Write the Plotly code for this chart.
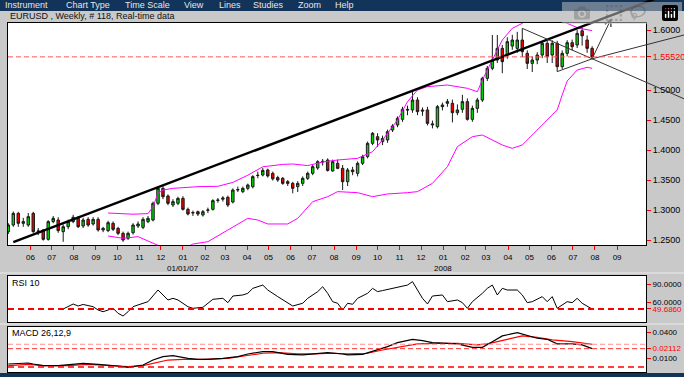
import pandas as pd
import plotly.graph_objects as go

W, H = 684, 377

# ---------------- data ----------------
first_week = "2006-05-01"

opens = [1.2639,1.2750,1.2944,1.2778,1.2750,1.2944,1.2639,1.2667,1.2511,1.2806,
1.2833,1.2639,1.2722,1.2806,1.2861,1.2733,1.2844,1.2767,1.2844,1.2667,
1.2656,1.2778,1.2694,1.2611,1.2528,1.2622,1.2733,1.2711,1.2806,1.2833,
1.3111,1.3361,1.3233,1.3083,1.3111,1.3194,1.3011,1.2950,1.2972,1.2917,
1.2995,1.3011,1.3160,1.3180,1.3211,1.3133,1.3333,1.3306,1.3361,1.3389,
1.3580,1.3583,1.3667,1.3611,1.3540,1.3528,1.3472,1.3444,1.3389,1.3444,
1.3528,1.3611,1.3700,1.3800,1.3833,1.3650,1.3778,1.3694,1.3472,1.3667,
1.3611,1.3778,1.3889,1.4111,1.4222,1.4139,1.4167,1.4333,1.4417,1.4511,
1.4678,1.4667,1.4833,1.4667,1.4667,1.4417,1.4389,1.4722,1.4778,1.4778,
1.4622,1.4678,1.4806,1.4511,1.4694,1.4833,1.5194,1.5361,1.5500,1.5694,
1.5583,1.5733,1.5694,1.5833,1.5611,1.5444,1.5500,1.5583,1.5778,1.5583,
1.5778,1.5389,1.5611,1.5789,1.5750,1.5986,1.5833,1.5694]

highs = [1.2780,1.2975,1.2970,1.2870,1.2950,1.2970,1.2700,1.2680,1.2830,1.2900,
1.2880,1.2760,1.2840,1.2920,1.2900,1.2870,1.2880,1.2880,1.2880,1.2720,
1.2820,1.2810,1.2720,1.2640,1.2640,1.2780,1.2810,1.2880,1.2900,1.3140,
1.3400,1.3400,1.3260,1.3180,1.3220,1.3230,1.3040,1.2990,1.2990,1.3000,
1.3040,1.3180,1.3200,1.3230,1.3240,1.3360,1.3390,1.3390,1.3440,1.3580,
1.3640,1.3700,1.3690,1.3640,1.3570,1.3550,1.3500,1.3470,1.3480,1.3560,
1.3640,1.3750,1.3830,1.3850,1.3860,1.3840,1.3840,1.3750,1.3700,1.3720,
1.3810,1.3920,1.4140,1.4300,1.4280,1.4240,1.4340,1.4430,1.4560,1.4720,
1.4740,1.4970,1.4880,1.4710,1.4720,1.4490,1.4750,1.4790,1.4850,1.4840,
1.4760,1.4920,1.4860,1.4740,1.4870,1.5220,1.5400,1.5917,1.5917,1.5750,
1.5880,1.5920,1.5970,1.6028,1.5660,1.5560,1.5630,1.5810,1.5820,1.5830,
1.5820,1.5660,1.5830,1.5840,1.6000,1.6038,1.5910,1.5730]

lows = [1.2600,1.2720,1.2720,1.2720,1.2720,1.2620,1.2580,1.2490,1.2490,1.2780,
1.2620,1.2470,1.2680,1.2780,1.2700,1.2700,1.2720,1.2740,1.2640,1.2630,
1.2630,1.2650,1.2580,1.2470,1.2500,1.2590,1.2700,1.2680,1.2780,1.2810,
1.3080,1.3180,1.3080,1.3050,1.3080,1.2990,1.2910,1.2900,1.2900,1.2890,
1.2950,1.2990,1.3120,1.3140,1.3050,1.3110,1.3300,1.3280,1.3330,1.3360,
1.3530,1.3560,1.3540,1.3490,1.3470,1.3420,1.3400,1.3278,1.3300,1.3400,
1.3500,1.3580,1.3670,1.3740,1.3640,1.3640,1.3680,1.3333,1.3400,1.3580,
1.3560,1.3750,1.3860,1.4080,1.4050,1.4080,1.4120,1.4300,1.4380,1.4470,
1.4580,1.4620,1.4580,1.4570,1.4410,1.4360,1.4360,1.4660,1.4720,1.4460,
1.4580,1.4620,1.4490,1.4470,1.4620,1.4800,1.5150,1.5330,1.5450,1.5280,
1.5520,1.5670,1.5620,1.5550,1.5350,1.5300,1.5430,1.5530,1.5450,1.5450,
1.5306,1.5350,1.5560,1.5660,1.5700,1.5740,1.5620,1.5510]

closes = [1.2750,1.2944,1.2778,1.2806,1.2889,1.2639,1.2650,1.2511,1.2806,1.2861,
1.2656,1.2722,1.2806,1.2878,1.2722,1.2833,1.2750,1.2844,1.2667,1.2694,
1.2789,1.2678,1.2611,1.2500,1.2611,1.2750,1.2767,1.2844,1.2861,1.3111,
1.3361,1.3222,1.3111,1.3139,1.3194,1.3011,1.2933,1.2956,1.2933,1.2972,
1.3000,1.3156,1.3165,1.3200,1.3083,1.3333,1.3340,1.3361,1.3417,1.3556,
1.3575,1.3660,1.3567,1.3520,1.3500,1.3444,1.3444,1.3361,1.3444,1.3528,
1.3611,1.3722,1.3806,1.3810,1.3660,1.3806,1.3694,1.3472,1.3667,1.3639,
1.3778,1.3889,1.4111,1.4278,1.4167,1.4194,1.4306,1.4400,1.4528,1.4678,
1.4667,1.4833,1.4639,1.4650,1.4444,1.4433,1.4722,1.4750,1.4806,1.4622,
1.4667,1.4806,1.4511,1.4694,1.4833,1.5194,1.5361,1.5500,1.5694,1.5472,
1.5806,1.5833,1.5833,1.5639,1.5444,1.5500,1.5583,1.5778,1.5556,1.5778,
1.5389,1.5611,1.5789,1.5722,1.5944,1.5903,1.5694,1.5552]

# Bollinger bands (week number, value)
bb_upper_week = [21,24,26,29,30,31,32,34,39,43,46,49,52,56,58,61,64,67,71,74,76,79,81,83,85,89,93,95,96,98,100,102,104,106,110,113,114,115,116,117,118]
bb_upper = [1.2950,1.2940,1.2930,1.2940,1.3056,1.3278,1.3333,1.3361,1.3389,1.3395,1.3460,1.3580,1.3720,1.3760,1.3767,1.3740,1.3800,1.3833,1.3861,1.3972,1.4167,1.4500,1.4806,1.5000,1.5056,1.5083,1.5028,1.4972,1.5167,1.5500,1.5833,1.6028,1.6111,1.6250,1.6250,1.6111,1.6070,1.6040,1.6020,1.6000,1.5990]
bb_lower_week = [21,24,27,30,31,33,35,37,38,41,45,49,51,53,57,59,62,65,67,71,74,77,81,83,86,89,91,94,96,98,100,102,104,106,109,111,112,113,115,117,118]
bb_lower = [1.2567,1.2528,1.2556,1.2456,1.2411,1.2380,1.2370,1.2390,1.2433,1.2472,1.2667,1.2861,1.2833,1.2767,1.2767,1.2861,1.3139,1.3222,1.3306,1.3289,1.3222,1.3267,1.3289,1.3306,1.3444,1.3722,1.4056,1.4222,1.4250,1.4167,1.4083,1.4028,1.4083,1.4250,1.4500,1.4667,1.4917,1.5150,1.5333,1.5378,1.5361]

# RSI 10 (week number, value)
rsi_week = [12,14,15,16,18,19,20,22,23,24,25,26,27,29,31,32,33,34,35,37,38,40,41,42,44,45,46,48,49,50,52,53,55,57,58,60,61,63,64,65,66,67,68,69,70,71,73,74,75,76,78,80,81,82,83,84,85,86,88,89,91,92,93,94,96,97,98,99,100,101,103,104,105,106,108,109,110,111,113,114,115,116,118]
rsi_value = [49.7,57.7,54.5,57.0,53.4,48.0,45.3,50.8,42.7,38.4,45.3,53.4,56.2,61.5,80.3,72.3,64.2,66.9,64.2,53.4,50.8,52.4,58.9,65.3,66.9,59.9,70.6,72.3,75.0,83.0,88.3,80.3,69.6,58.9,54.5,58.9,66.9,77.6,85.6,75.0,61.5,58.9,48.1,58.9,57.3,66.9,75.0,83.0,77.7,79.4,83.0,85.7,88.3,93.8,80.3,66.9,57.8,70.6,72.3,61.5,64.2,59.9,50.8,61.5,75.0,83.0,88.3,72.3,83.0,80.3,80.3,72.3,59.9,61.5,69.6,61.5,69.6,50.8,61.5,59.9,66.9,58.9,49.686]
rsi_last = 49.686

# MACD 26,12,9 (week number, value)
macd_week = [1,3,5,6,8,11,13,16,19,21,23,25,27,28,30,32,34,35,37,39,41,44,47,49,52,54,57,60,62,65,68,69,72,75,77,79,82,84,86,89,91,94,96,98,100,103,104,107,109,111,114,116,118]
macd_value = [0.0034,0.0042,0.0046,0.0034,0.0015,0.0015,0.0023,0.0042,0.0030,0.0023,0.0011,-0.0004,0.0011,0.0023,0.0080,0.0119,0.0131,0.0119,0.0100,0.0088,0.0088,0.0100,0.0119,0.0150,0.0177,0.0177,0.0146,0.0139,0.0150,0.0166,0.0150,0.0139,0.0146,0.0196,0.0235,0.0281,0.0319,0.0304,0.0281,0.0273,0.0266,0.0227,0.0227,0.0292,0.0358,0.0396,0.0381,0.0331,0.0319,0.0266,0.0266,0.0254,0.02112]
signal_week = [1,5,8,13,17,21,25,28,30,33,36,40,45,48,52,55,59,62,66,69,73,76,80,83,87,91,95,97,101,104,107,110,114,118]
signal_value = [0.0015,0.0030,0.0015,0.0015,0.0030,0.0015,0.0004,0.0015,0.0042,0.0080,0.0088,0.0088,0.0100,0.0127,0.0158,0.0166,0.0150,0.0150,0.0158,0.0150,0.0158,0.0196,0.0235,0.0266,0.0273,0.0273,0.0254,0.0266,0.0319,0.0358,0.0342,0.0312,0.0292,0.0262]
macd_last = 0.02112
signal_last = 0.0262

last_price = 1.5552

# drawn trend lines (date, price)
trend_long_x = ["2006-05-08", "2008-12-01"]
trend_long_y = [1.2465, 1.6690]
trend_down_x = ["2008-04-21", "2008-12-04"]
trend_down_y = [1.6028, 1.4853]
trend_up_x = ["2008-06-09", "2008-07-28", "2008-12-04"]
trend_up_y = [1.5306, 1.5520, 1.5917]
arrow_from = ("2008-07-28", 1.5520)
arrow_to = ("2008-08-24", 1.6195)

price_ticks = [1.25, 1.30, 1.35, 1.40, 1.45, 1.50, 1.60]
rsi_ticks = [90, 60]
macd_ticks = [0.04, 0.01]
month_ticks = pd.date_range("2006-06-01", "2008-09-01", freq="MS")
month_labels = [d.strftime("%m") for d in month_ticks]
year_labels = [("2007-01-01", "01/01/07"), ("2008-01-01", "2008")]

menu_items = ["Instrument", "Chart Type", "Time Scale", "View", "Lines", "Studies", "Zoom", "Help"]
title_text = "EURUSD , Weekly, # 118, Real-time data"

# ---------------- geometry ----------------
start = pd.Timestamp(first_week)
week_dates = [start + pd.Timedelta(weeks=i) for i in range(len(closes))]
def wk(ks):
    return [week_dates[k - 1] for k in ks]

PX_L, PX_R = 8, 646
MAIN_T, MAIN_B = 23, 245
RSI_T, RSI_B = 276, 322
MACD_T, MACD_B = 327, 372
WEEK_PX, FIRST_PX = 4.99, 8.3

def px_date(px):
    return (start + pd.Timedelta(days=(px - FIRST_PX) / WEEK_PX * 7)).strftime("%Y-%m-%d %H:%M:%S")

def ydom(top, bot):
    return [1 - bot / H, 1 - top / H]

xdom = [PX_L / W, PX_R / W]
main_xr = [px_date(PX_L), px_date(PX_R)]
full_xr = [px_date(0), px_date(W)]
main_yr = [1.24167, 1.61167]
ppx = (main_yr[1] - main_yr[0]) / (MAIN_B - MAIN_T)
full_yr = [main_yr[0] - (H - MAIN_B) * ppx, main_yr[1] + MAIN_T * ppx]

FONT = "Liberation Sans"
GREY = "#c9c9c9"
NAVY = "#12335a"

fig = go.Figure()

fig.add_trace(go.Candlestick(
    x=week_dates, open=opens, high=highs, low=lows, close=closes,
    increasing=dict(fillcolor="#00d400", line=dict(color="#1a1a1a", width=1)),
    decreasing=dict(fillcolor="#e80000", line=dict(color="#1a1a1a", width=1)),
    whiskerwidth=0, xaxis="x", yaxis="y", showlegend=False, hoverinfo="skip"))

fig.add_trace(go.Scatter(x=wk(bb_upper_week), y=bb_upper, mode="lines",
                         line=dict(color="#ff00ff", width=1), xaxis="x", yaxis="y", showlegend=False))
fig.add_trace(go.Scatter(x=wk(bb_lower_week), y=bb_lower, mode="lines",
                         line=dict(color="#ff00ff", width=1), xaxis="x", yaxis="y", showlegend=False))

fig.add_trace(go.Scatter(x=wk(rsi_week), y=rsi_value, mode="lines",
                         line=dict(color="#000000", width=1), xaxis="x2", yaxis="y2", showlegend=False))
fig.add_trace(go.Scatter(x=wk(signal_week), y=signal_value, mode="lines",
                         line=dict(color="#ff0000", width=1.2), xaxis="x3", yaxis="y3", showlegend=False))
fig.add_trace(go.Scatter(x=wk(macd_week), y=macd_value, mode="lines",
                         line=dict(color="#000000", width=1.2), xaxis="x3", yaxis="y3", showlegend=False))

# trend lines on a full-figure overlay axis pair with the same scale
fig.add_trace(go.Scatter(x=trend_long_x, y=trend_long_y, mode="lines",
                         line=dict(color="#000000", width=2.4), xaxis="x4", yaxis="y4", showlegend=False))
fig.add_trace(go.Scatter(x=trend_down_x, y=trend_down_y, mode="lines",
                         line=dict(color="#333333", width=1), xaxis="x4", yaxis="y4", showlegend=False))
fig.add_trace(go.Scatter(x=trend_up_x, y=trend_up_y, mode="lines",
                         line=dict(color="#333333", width=1), xaxis="x4", yaxis="y4", showlegend=False))

axis_common = dict(showgrid=False, zeroline=False, showline=True, linecolor="#000000",
                   linewidth=1, mirror=True, fixedrange=True, automargin=False)
def ytick(size):
    return dict(side="right", ticks="outside", ticklen=4, tickcolor="#ff0000",
                tickfont=dict(family=FONT, size=size, color="#000000"))

red = lambda s: "<span style='color:#ff0000'>" + s + "</span>"

fig.update_layout(
    width=W, height=H, margin=dict(l=0, r=0, t=0, b=0, autoexpand=False),
    paper_bgcolor=GREY, plot_bgcolor="rgba(0,0,0,0)", showlegend=False,
    font=dict(family=FONT, size=9, color="#000000"),
    xaxis=dict(domain=xdom, anchor="y", type="date", range=main_xr, **axis_common,
               tickmode="array", tickvals=list(month_ticks), ticktext=month_labels,
               ticks="outside", ticklen=4, tickcolor="#ff0000",
               tickfont=dict(family=FONT, size=8, color="#000000"),
               rangeslider=dict(visible=False)),
    yaxis=dict(domain=ydom(MAIN_T, MAIN_B), anchor="x", range=main_yr, **axis_common, **ytick(9),
               tickmode="array", tickvals=price_ticks + [last_price],
               ticktext=["%.4f" % v for v in price_ticks] + [red("%.5f" % last_price)]),
    xaxis2=dict(domain=xdom, anchor="y2", type="date", range=main_xr, **axis_common,
                showticklabels=False, ticks=""),
    yaxis2=dict(domain=ydom(RSI_T, RSI_B), anchor="x2", range=[28.7, 102.9], **axis_common, **ytick(8),
                tickmode="array", tickvals=rsi_ticks + [rsi_last],
                ticktext=["%.4f" % v for v in rsi_ticks] + [red("%.4f" % rsi_last)]),
    xaxis3=dict(domain=xdom, anchor="y3", type="date", range=main_xr, **axis_common,
                showticklabels=False, ticks=""),
    yaxis3=dict(domain=ydom(MACD_T, MACD_B), anchor="x3", range=[-0.0058, 0.0461], **axis_common, **ytick(8),
                tickmode="array", tickvals=macd_ticks + [macd_last],
                ticktext=["%.4f" % v for v in macd_ticks] + [red("%.5f" % macd_last)]),
    xaxis4=dict(domain=[0, 1], anchor="y4", type="date", range=full_xr, visible=False,
                fixedrange=True, automargin=False),
    yaxis4=dict(domain=[0, 1], anchor="x4", range=full_yr, visible=False,
                fixedrange=True, automargin=False),
)

shapes = []
# panel backgrounds
for xr_, yr_ in [("x", "y"), ("x2", "y2"), ("x3", "y3")]:
    shapes.append(dict(type="rect", xref=xr_ + " domain", yref=yr_ + " domain", x0=0, x1=1, y0=0, y1=1,
                       fillcolor="#ffffff", line=dict(width=0), layer="below"))
# menu bar and bottom bar
shapes.append(dict(type="rect", xref="paper", yref="paper", x0=0, x1=1, y0=1 - 11 / H, y1=1,
                   fillcolor=NAVY, line=dict(width=0), layer="below"))
shapes.append(dict(type="rect", xref="paper", yref="paper", x0=0, x1=1, y0=0, y1=4 / H,
                   fillcolor=NAVY, line=dict(width=0), layer="below"))
# panel separators
for ypx in (273, 324):
    shapes.append(dict(type="line", xref="paper", yref="paper", x0=0, x1=1, y0=1 - ypx / H, y1=1 - ypx / H,
                       line=dict(color="#ececec", width=1), layer="below"))
# current value lines
shapes.append(dict(type="line", xref="x domain", yref="y", x0=0, x1=1, y0=last_price, y1=last_price,
                   line=dict(color="#ff5050", width=1, dash="5px,3px")))
shapes.append(dict(type="line", xref="x2 domain", yref="y2", x0=0, x1=1, y0=rsi_last, y1=rsi_last,
                   line=dict(color="#ff0000", width=2, dash="6px,4px")))
shapes.append(dict(type="line", xref="x3 domain", yref="y3", x0=0, x1=1, y0=signal_last, y1=signal_last,
                   line=dict(color="#ff9090", width=1, dash="5px,3px")))
shapes.append(dict(type="line", xref="x3 domain", yref="y3", x0=0, x1=1, y0=macd_last, y1=macd_last,
                   line=dict(color="#ff3030", width=1, dash="5px,3px")))
shapes.append(dict(type="line", xref="x3 domain", yref="y3", x0=0, x1=1, y0=0, y1=0,
                   line=dict(color="#ff0000", width=1.6, dash="6px,4px")))
fig.update_layout(shapes=shapes)

ann = []
menu_px = [3, 64, 123, 182, 217, 251, 296, 333]
for name, px in zip(menu_items, menu_px):
    ann.append(dict(text=name, xref="paper", yref="paper", x=px / W, y=1 - 5.5 / H, xanchor="left",
                    yanchor="middle", showarrow=False, font=dict(family=FONT, size=9, color="#e6e6e6")))
ann.append(dict(text=title_text, xref="paper", yref="paper", x=8 / W, y=1 - 16 / H, xanchor="left",
                yanchor="middle", showarrow=False, font=dict(family=FONT, size=9, color="#111111")))
ann.append(dict(text="RSI 10", xref="paper", yref="paper", x=10 / W, y=1 - 282.5 / H, xanchor="left",
                yanchor="middle", showarrow=False, font=dict(family=FONT, size=9, color="#000000")))
ann.append(dict(text="MACD 26,12,9", xref="paper", yref="paper", x=10 / W, y=1 - 333 / H, xanchor="left",
                yanchor="middle", showarrow=False, font=dict(family=FONT, size=9, color="#000000")))
for d, label in year_labels:
    ann.append(dict(text=label, xref="x", yref="paper", x=d, y=1 - 268 / H, xanchor="center",
                    yanchor="middle", showarrow=False, font=dict(family=FONT, size=8, color="#000000")))
ann.append(dict(text="", xref="x4", yref="y4", x=arrow_to[0], y=arrow_to[1],
                axref="x4", ayref="y4", ax=arrow_from[0], ay=arrow_from[1],
                showarrow=True, arrowhead=5, arrowsize=1.3, arrowwidth=1, arrowcolor="#333333"))
fig.update_layout(annotations=ann)

# the page's default 8px body margin would shift the figure; remove it
fig.write_html("out.html", post_script="document.body.style.margin='0px';")
